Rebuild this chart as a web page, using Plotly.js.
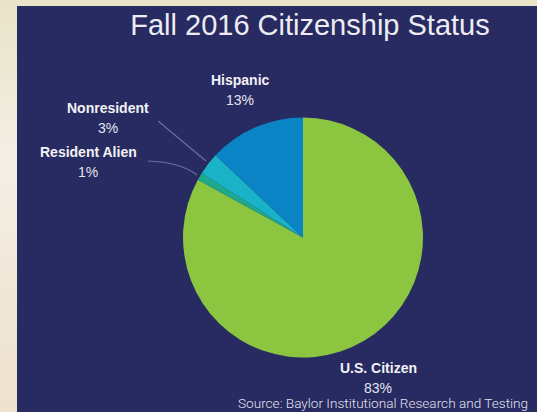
<!DOCTYPE html>
<html>
<head>
<meta charset="utf-8">
<script src="https://cdn.plot.ly/plotly-3.0.1.min.js"></script>
<style>
  html, body { margin: 0; padding: 0; width: 537px; height: 412px; overflow: hidden; }
  body { background: linear-gradient(180deg, #e9e4c8 0%, #f3efe6 40%, #f1e7d8 70%, #efe3cf 100%); position: relative; }
  #chart { position: absolute; left: 17px; top: 6px; width: 520px; height: 406px; }
</style>
</head>
<body>
<div id="chart"></div>
<script>
// ---- data ----
const categories = ['U.S. Citizen', 'Resident Alien', 'Nonresident', 'Hispanic'];
const shares = [83, 1, 3, 13];
const sliceColors = ['#8cc540', '#1ea98c', '#1ab2c6', '#0a84c4'];
const titleText = 'Fall 2016 Citizenship Status';
const sourceText = 'Source: Baylor Institutional Research and Testing';

// ---- layout helpers (page px -> paper fraction of the 520x406 panel) ----
const W = 520, H = 406, OX = 17, OY = 6;
const px = x => (x - OX) / W;
const py = y => 1 - (y - OY) / H;

// label anchor positions (page px), per category
const labelPos = [[378, 368], [88, 152], [108, 108], [240, 80]];
const pctGap = 20;

const annotations = [];
categories.forEach((c, i) => {
  annotations.push({
    text: '<b>' + c + '</b>', x: px(labelPos[i][0]), y: py(labelPos[i][1]),
    xref: 'paper', yref: 'paper', showarrow: false, xanchor: 'center', yanchor: 'middle',
    font: { family: 'Liberation Sans, Arial, sans-serif', size: 14, color: '#f2f2f6' }
  });
  annotations.push({
    text: shares[i] + '%', x: px(labelPos[i][0]), y: py(labelPos[i][1] + pctGap),
    xref: 'paper', yref: 'paper', showarrow: false, xanchor: 'center', yanchor: 'middle',
    font: { family: 'Liberation Sans, Arial, sans-serif', size: 14, color: '#e4e4ee' }
  });
});
annotations.push({
  text: sourceText, x: px(236), y: py(403), xref: 'paper', yref: 'paper',
  showarrow: false, xanchor: 'left', yanchor: 'middle',
  font: { family: 'Roboto, sans-serif', size: 13.6, weight: 300, color: '#e2e2ee' }
});

const P = (x, y) => px(x).toFixed(4) + ',' + py(y).toFixed(4);
const shapes = [
  { type: 'path', xref: 'paper', yref: 'paper',
    path: 'M' + P(158, 121) + ' L' + P(206, 161),
    line: { color: '#6a6f9a', width: 1.2 } },
  { type: 'path', xref: 'paper', yref: 'paper',
    path: 'M' + P(148, 161) + ' Q' + P(180, 162) + ' ' + P(197, 175),
    line: { color: '#6a6f9a', width: 1.2 } }
];

const data = [{
  type: 'pie',
  labels: categories,
  values: shares,
  sort: false,
  direction: 'clockwise',
  rotation: 0,
  textinfo: 'none',
  hoverinfo: 'label+percent',
  marker: { colors: sliceColors, line: { width: 0 } },
  domain: { x: [px(183), px(423)], y: [py(357.5), py(117.5)] },
  showlegend: false
}];

const layout = {
  width: W, height: H,
  margin: { l: 0, r: 0, t: 0, b: 0 },
  paper_bgcolor: '#282a62',
  plot_bgcolor: '#282a62',
  title: {
    text: titleText, x: px(310), xanchor: 'center', y: py(25), yanchor: 'middle',
    xref: 'paper', yref: 'paper',
    font: { family: 'Liberation Sans, Arial, sans-serif', size: 29, color: '#ececf2' }
  },
  annotations: annotations,
  shapes: shapes
};

Plotly.newPlot('chart', data, layout, { staticPlot: true, displayModeBar: false });
</script>
</body>
</html>
